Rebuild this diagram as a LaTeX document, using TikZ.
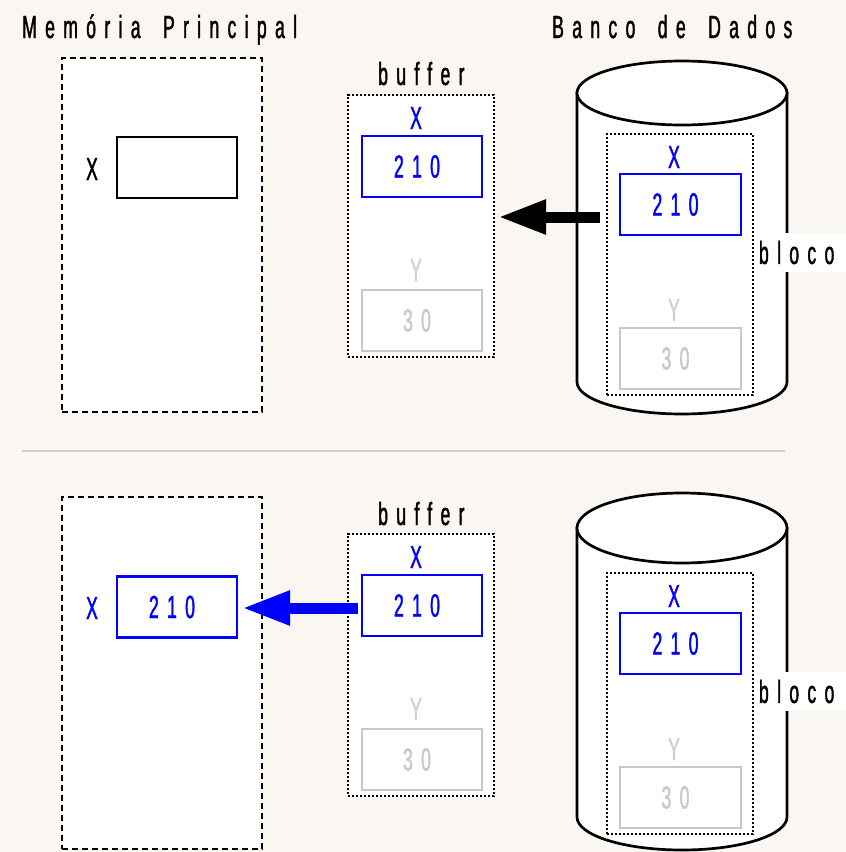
\documentclass[tikz,border=0pt]{standalone}
\usepackage{fontspec}
\setmainfont{Liberation Sans}
\newfontfamily\nf[FakeStretch=0.55,LetterSpace=26,WordSpace=1.7,FakeBold=1.2]{Liberation Sans}
\usetikzlibrary{arrows.meta}
\definecolor{bgc}{RGB}{250,246,242}
\definecolor{lg}{RGB}{200,200,200}
\definecolor{lgt}{RGB}{210,210,210}
\definecolor{bl}{RGB}{0,0,255}
\definecolor{divc}{RGB}{208,208,208}
\newcommand\cellval[1]{#1\kern10pt}
\begin{document}
\begin{tikzpicture}[x=1pt,y=-1pt,
  txt/.style={font=\nf\fontsize{32}{36}\selectfont, inner sep=0pt},
  memo/.style={draw=black, fill=white, line width=2.7pt, dash pattern=on 6pt off 4pt, minimum width=200pt, minimum height=354pt, inner sep=0pt},
  dotbox/.style={draw=black, fill=white, line width=2.4pt, dash pattern=on 2.2pt off 1.8pt, minimum width=146pt, minimum height=262pt, inner sep=0pt},
  cell/.style={txt, draw, fill=white, line width=2.8pt, minimum width=120pt, minimum height=61pt},
  bcell/.style={cell, draw=bl, text=bl},
  gcell/.style={cell, draw=lg, text=lg},
  kcell/.style={cell, draw=black},
  cyl/.style={draw=black, fill=white, line width=2.7pt},
  blocobox/.style={fill=white, inner sep=0pt, minimum width=88pt, minimum height=39pt},
  bigarrow/.style={line width=11pt, -{Triangle[length=48pt,width=32pt]}},
]
\fill[bgc] (0,0) rectangle (846,852);
\useasboundingbox (0,0) rectangle (846,852);

% titles
\node[txt, anchor=base west] (tmem) at (22,38) {Memória Principal};
\node[txt, anchor=base west] (tbd) at (552,38) {Banco de Dados};

% ---------- top panel ----------
\node[memo] (mem1) at (162,235) {};
\node[txt] (mx1l) at (92,169) {X};
\node[kcell] (mx1) at (177,167.5) {};

\node[txt, anchor=base west] (tbuf1) at (378,85) {buffer};
\node[dotbox] (buf1) at (421,226) {};
\node[txt, text=bl] (bx1l) at (416,118) {X};
\node[bcell] (bx1) at (422,166.5) {\cellval{210}};
\node[txt, text=lgt] (by1l) at (416,270) {Y};
\node[gcell] (by1) at (422,320.5) {\cellval{30}};

\path[cyl] (577,93) -- (577,382) arc[start angle=180, end angle=360, x radius=105pt, y radius=32pt] -- (787,93) -- cycle;
\draw[cyl] (682,93) ellipse [x radius=105pt, y radius=32pt];
\node[dotbox, minimum height=261pt] (blk1) at (680,264.5) {};
\node[txt, text=bl] (cx1l) at (674,157) {X};
\node[bcell, minimum width=121pt] (cx1) at (680.5,204.5) {\cellval{210}};
\node[txt, text=lgt] (cy1l) at (674,310) {Y};
\node[gcell, minimum width=121pt] (cy1) at (680.5,358.5) {\cellval{30}};
\node[blocobox] (bloco1) at (802,252.5) {};
\node[txt, anchor=west] (blocot1) at ([xshift=1pt]bloco1.west) {bloco};

\coordinate (a1t) at (600,217);
\coordinate (a1h) at (498,217);
\draw[bigarrow, black] (a1t) -- (a1h);

% divider
\coordinate (d1) at (22,451);
\coordinate (d2) at (785,451);
\draw[divc, line width=2pt] (d1) -- (d2);

% ---------- bottom panel ----------
\node[memo, minimum height=352pt] (mem2) at (162,673) {};
\node[txt, text=bl] (mx2l) at (92,608) {X};
\node[bcell] (mx2) at (177,607) {\cellval{210}};

\node[txt, anchor=base west] (tbuf2) at (378,525) {buffer};
\node[dotbox] (buf2) at (421,665) {};
\node[txt, text=bl] (bx2l) at (416,557) {X};
\node[bcell] (bx2) at (422,605.5) {\cellval{210}};
\node[txt, text=lgt] (by2l) at (416,709) {Y};
\node[gcell] (by2) at (422,759.5) {\cellval{30}};

\path[cyl] (577,528) -- (577,817) arc[start angle=180, end angle=360, x radius=105pt, y radius=33pt] -- (787,528) -- cycle;
\draw[cyl] (682,528) ellipse [x radius=105pt, y radius=35pt];
\node[dotbox, minimum height=261pt] (blk2) at (680,703.5) {};
\node[txt, text=bl] (cx2l) at (674,596) {X};
\node[bcell, minimum width=121pt] (cx2) at (680.5,643.5) {\cellval{210}};
\node[txt, text=lgt] (cy2l) at (674,749) {Y};
\node[gcell, minimum width=121pt] (cy2) at (680.5,797.5) {\cellval{30}};
\node[blocobox] (bloco2) at (802,691.5) {};
\node[txt, anchor=west] (blocot2) at ([xshift=1pt]bloco2.west) {bloco};

\coordinate (a2t) at (358,608);
\coordinate (a2h) at (242,608);
\draw[bigarrow, bl] (a2t) -- (a2h);
\end{tikzpicture}
\end{document}
